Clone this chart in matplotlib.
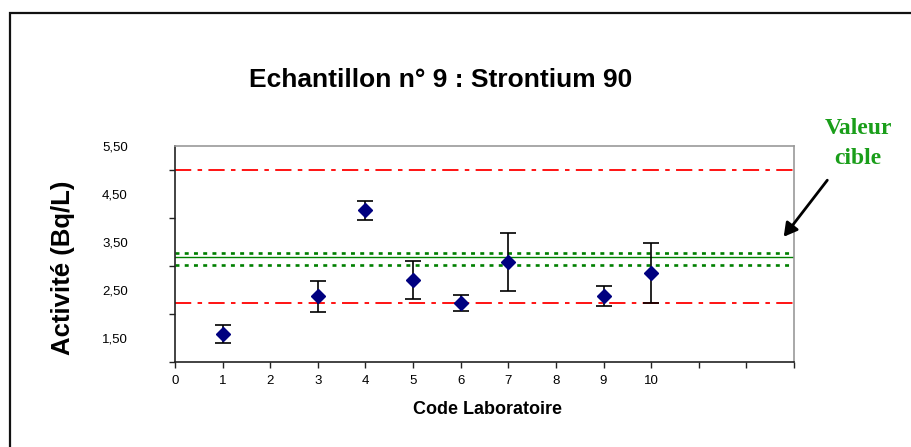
import matplotlib
matplotlib.use('Agg')
import matplotlib.pyplot as plt
from matplotlib.patches import Rectangle, FancyArrowPatch

# data
labos = [1, 3, 4, 5, 6, 7, 9, 10]
activite = [1.59, 2.37, 4.16, 2.71, 2.23, 3.08, 2.37, 2.85]
incert = [0.19, 0.32, 0.20, 0.39, 0.17, 0.60, 0.21, 0.62]

valeur_cible = 3.18
cible_haut = 3.28
cible_bas = 3.03
limite_haut = 5.00
limite_bas = 2.23

x_labels = ['0', '1', '2', '3', '4', '5', '6', '7', '8', '9', '10', '', '', '']
y_labels = ['1,50', '2,50', '3,50', '4,50', '5,50']

W, H = 911, 447
fig = plt.figure(figsize=(W / 100, H / 100), dpi=100)
fig.patch.set_facecolor('white')

# outer frame
fig.add_artist(Rectangle((10 / W, -0.05), 1.0, 1 - 13 / H + 0.05, transform=fig.transFigure,
                         fill=False, edgecolor='#111111', linewidth=1.6))

ax = fig.add_axes([175 / W, 1 - 362 / H, (794 - 175) / W, (362 - 146) / H])
ax.set_xlim(0, 13)
ax.set_ylim(1, 5.5)

red = '#FF0000'
green = '#008000'
ax.axhline(limite_haut, color=red, linewidth=1.3, linestyle=(0, (9, 3.5, 2.5, 3.5)))
ax.axhline(limite_bas, color=red, linewidth=1.3, linestyle=(0, (9, 3.5, 2.5, 3.5)))
ax.axhline(valeur_cible, color=green, linewidth=1.0)
ax.axhline(cible_haut, color=green, linewidth=1.9, linestyle=(0, (1.5, 2.0)))
ax.axhline(cible_bas, color=green, linewidth=1.9, linestyle=(0, (1.5, 2.0)))

ax.errorbar(labos, activite, yerr=incert, fmt='D', color='#000080', markersize=7.5,
            ecolor='black', elinewidth=1.2, capsize=5.5, capthick=1.2, zorder=5)

ax.set_xticks(range(14))
ax.set_xticklabels(x_labels, fontsize=9.5, family='Liberation Sans')
ax.set_yticks([1, 2, 3, 4, 5])
ax.set_yticklabels([])
ax.set_yticks([1.5, 2.5, 3.5, 4.5, 5.5], minor=True)
ax.set_yticklabels(y_labels, minor=True, fontsize=9.5, family='Liberation Sans')
ax.tick_params(axis='y', which='major', direction='out', length=4, width=1, color='#222222')
ax.tick_params(axis='y', which='minor', length=0, pad=34)
ax.tick_params(axis='x', direction='out', length=4, width=1, color='#222222', pad=5)

for s in ['left', 'bottom']:
    ax.spines[s].set_color('#222222')
    ax.spines[s].set_linewidth(1.2)
for s in ['top', 'right']:
    ax.spines[s].set_color('#999999')
    ax.spines[s].set_linewidth(1.2)

fig.text(441 / W, 1 - 80 / H, 'Echantillon n° 9 : Strontium 90', ha='center', va='center',
         fontsize=19, fontweight='bold', family='Liberation Sans')
fig.text(63 / W, 1 - 268 / H, 'Activité (Bq/L)', ha='center', va='center', rotation=90,
         fontsize=18.5, fontweight='bold', family='Liberation Sans')
fig.text(488 / W, 1 - 410 / H, 'Code Laboratoire', ha='center', va='center',
         fontsize=13, fontweight='bold', family='Liberation Sans')

fig.text(858 / W, 1 - 129 / H, 'Valeur', ha='center', va='center', color='#1a9e1a',
         fontsize=17, fontweight='bold', family='Liberation Serif')
fig.text(858 / W, 1 - 158 / H, 'cible', ha='center', va='center', color='#1a9e1a',
         fontsize=17, fontweight='bold', family='Liberation Serif')

fig.add_artist(FancyArrowPatch(
    (829 / W, 1 - 178 / H), (782 / W, 1 - 239 / H), transform=fig.transFigure,
    arrowstyle='-|>,head_length=8,head_width=4.5', color='black', linewidth=2))

fig.savefig('out.png', dpi=100)
